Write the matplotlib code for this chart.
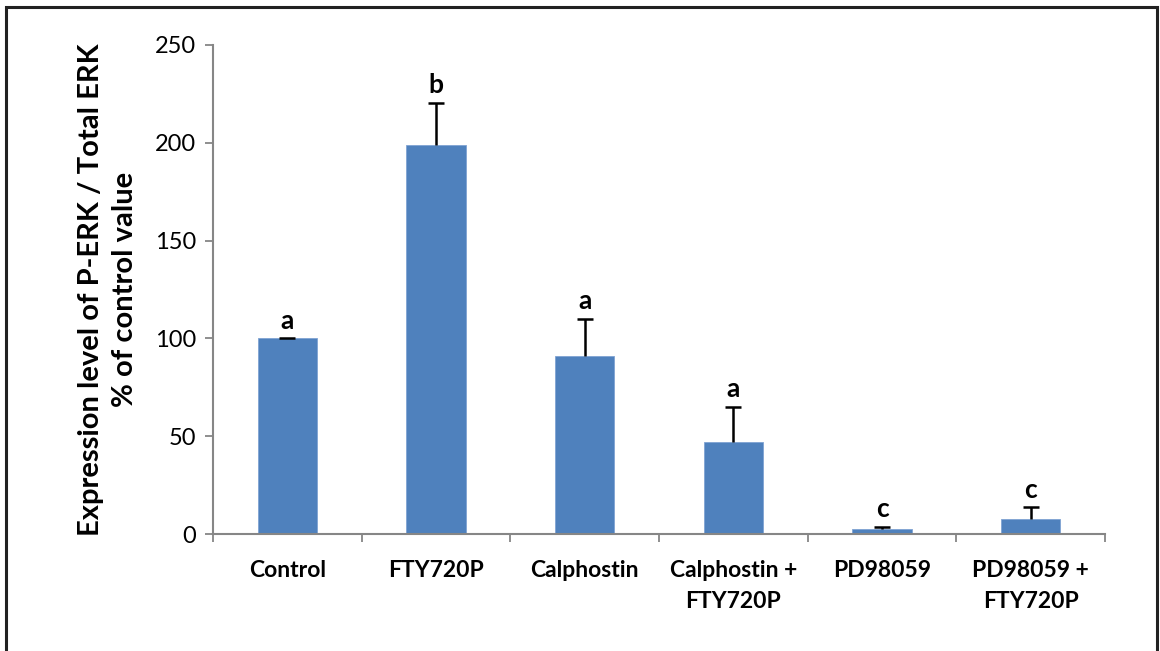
import matplotlib
matplotlib.use("Agg")
import matplotlib.pyplot as plt
from matplotlib.patches import Rectangle
import numpy as np

categories = ["Control", "FTY720P", "Calphostin", "Calphostin +\nFTY720P", "PD98059", "PD98059 +\nFTY720P"]
values = [100, 199, 91, 47, 2.5, 7.7]
errors = [0, 21.3, 19, 18, 1.1, 6.0]
letters = ["a", "b", "a", "a", "c", "c"]
yticks = [0, 50, 100, 150, 200, 250]

plt.rcParams['font.family'] = ['Lato', 'DejaVu Sans']

fig = plt.figure(figsize=(11.6, 6.51), dpi=100)
ax = fig.add_axes([0.1836, 0.1797, 0.769, 0.7512])

x = np.arange(len(categories))
ax.bar(x, values, width=0.40, color="#4F81BD", edgecolor="#7FA3D3", linewidth=0.6, zorder=2)
eb = ax.errorbar(x, values, yerr=[np.zeros(len(errors)), errors], fmt="none",
                 ecolor="black", elinewidth=1.8, capsize=6, capthick=1.8, zorder=3)
caps = eb[1]
if len(caps) == 2:
    caps[0].set_visible(False)
for xi, v, e, l in zip(x, values, errors, letters):
    ax.text(xi, v + e + 9, l, ha="center", va="center", fontsize=19, fontweight="bold")

ax.set_xlim(-0.5, len(categories) - 0.5)
ax.set_ylim(0, 250)
ax.set_yticks(yticks)
ax.set_yticklabels([str(t) for t in yticks], fontsize=17)
ax.set_xticks(x)
ax.set_xticklabels(categories, fontsize=16.5, fontweight="bold", linespacing=1.55)
ax.set_xticks(np.arange(-0.5, len(categories), 1.0), minor=True)
ax.tick_params(axis="x", which="major", length=0, pad=19)
ax.tick_params(axis="x", which="minor", length=6, width=1.3, color="#868686", direction="out")
ax.tick_params(axis="y", length=6, width=1.3, color="#868686", direction="out", pad=6)

for s in ["top", "right"]:
    ax.spines[s].set_visible(False)
for s in ["left", "bottom"]:
    ax.spines[s].set_color("#868686")
    ax.spines[s].set_linewidth(1.5)

ax.set_ylabel("Expression level of P-ERK / Total ERK\n% of control value", fontsize=21,
              fontweight="bold", labelpad=12, linespacing=1.4)

fig.patches.append(Rectangle((0.005, -0.01), 0.992, 0.999, transform=fig.transFigure,
                             fill=False, edgecolor="#222222", linewidth=2.2))

fig.savefig("out.png", dpi=100)
